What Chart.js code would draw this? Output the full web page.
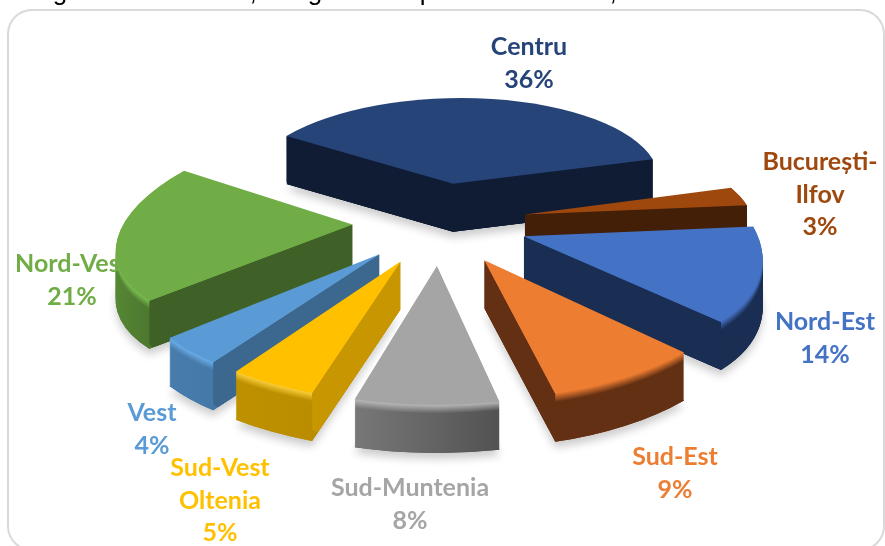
<!DOCTYPE html>
<html>
<head>
<meta charset="utf-8">
<title>Regiuni</title>
<script src="https://cdn.jsdelivr.net/npm/chart.js@4"></script>
<style>
  html, body { margin: 0; background: #fff; overflow: hidden; }
  canvas { display: block; }
</style>
</head>
<body>
<canvas id="canvas" width="885" height="546"></canvas>
<script>
// data, clockwise from the top slice
let categories = ["Centru", "București-Ilfov", "Nord-Est", "Sud-Est", "Sud-Muntenia", "Sud-Vest Oltenia", "Vest", "Nord-Vest"];
let shares = [36, 3, 14, 9, 8, 5, 4, 21];

// styles
let faceColors = ["#264478", "#9e480e", "#4472c4", "#ed7d31", "#a5a5a5", "#ffc000", "#5b9bd5", "#70ad47"];
let wallColors = ["#0f1c33", "#421f06", "#1a2d52", "#633014", "#5c5c5c", "#c79600", "#3c6890", "#3f6027"];
let bevelColors = ["#0f1c33", "#421f06", "#4472c4", "#ed7d31", "#bcbcbc", "#ffd23c", "#6db0ec", "#7dc353"];
let rimLeft = ["#0f1c33", "#421f06", "#1a2d52", "#633014", "#7f7f7f", "#c49500", "#4c85ba", "#619c3b"];
let rimRight = ["#0f1c33", "#421f06", "#1a2d52", "#633014", "#505050", "#b88c00", "#41739f", "#3f6027"];

// label lines and where they sit
let labelLines = [["Centru", "36%"], ["București-", "Ilfov", "3%"], ["Nord-Est", "14%"], ["Sud-Est", "9%"], ["Sud-Muntenia", "8%"], ["Sud-Vest", "Oltenia", "5%"], ["Vest", "4%"], ["Nord-Vest", "21%"]];
let labelSpots = [[529, 47], [820, 162], [825, 322], [675, 457], [410, 488], [220, 468], [152, 413], [72, 264]];

// bottoms of the caption line cut off above the frame
let captionBits = [["g", 60], [",", 253], ["g", 315], ["p", 427], [",", 613]];

// camera for the tilted pie
let view = { cx: 440, cy: 222, tilt: 0.448, dist: 6.5, explodeX: 0.38, explodeY: 0.4, depth: 48, bevel: 9, corner: 4 };

function hex(c) {
  return [1, 3, 5].map((i) => parseInt(c.substr(i, 2), 16));
}

function mix(a, b, t) {
  let pa = hex(a);
  let pb = hex(b);
  let m = pa.map((v, i) => Math.round(v + (pb[i] - v) * t));
  return "#" + m.map((v) => v.toString(16).padStart(2, "0")).join("");
}

function project(X, Y, R) {
  let s = (view.dist * R) / (view.dist * R - Y);
  return [view.cx + X * s, view.cy + Y * view.tilt * s];
}

// three screen points of a slice: tip and both rim corners
function sliceCorners(arc) {
  let R = arc.outerRadius;
  let mid = (arc.startAngle + arc.endAngle) / 2;
  let ex = Math.cos(mid) * view.explodeX * R;
  let ey = Math.sin(mid) * view.explodeY * R;
  return {
    tip: project(ex, ey, R),
    a: project(ex + Math.cos(arc.startAngle) * R, ey + Math.sin(arc.startAngle) * R, R),
    b: project(ex + Math.cos(arc.endAngle) * R, ey + Math.sin(arc.endAngle) * R, R),
    m: project(ex + Math.cos(mid) * R, ey + Math.sin(mid) * R, R),
  };
}

// the affine map that puts the library's flat arc onto those points
function sliceMatrix(arc, c) {
  let R = arc.outerRadius;
  let ax = Math.cos(arc.startAngle) * R, ay = Math.sin(arc.startAngle) * R;
  let bx = Math.cos(arc.endAngle) * R, by = Math.sin(arc.endAngle) * R;
  let det = ax * by - bx * ay;
  let pax = c.a[0] - c.tip[0], pay = c.a[1] - c.tip[1];
  let pbx = c.b[0] - c.tip[0], pby = c.b[1] - c.tip[1];
  let m11 = (pax * by - pbx * ay) / det;
  let m12 = (pbx * ax - pax * bx) / det;
  let m21 = (pay * by - pby * ay) / det;
  let m22 = (pby * ax - pay * bx) / det;
  return [m11, m21, m12, m22, c.tip[0] - m11 * arc.x - m12 * arc.y, c.tip[1] - m21 * arc.x - m22 * arc.y];
}

function drawArcAs(ctx, arc, matrix, color, dy) {
  let base = arc.options;
  arc.options = Object.assign({}, base, { backgroundColor: color, borderWidth: 0 });
  ctx.save();
  ctx.translate(0, dy);
  ctx.transform(matrix[0], matrix[1], matrix[2], matrix[3], matrix[4], matrix[5]);
  arc.draw(ctx);
  ctx.restore();
  arc.options = base;
}

function drawWall(ctx, tip, corner, mid, color) {
  let ex = corner[0] - tip[0], ey = corner[1] - tip[1];
  let inside = ex * (mid[1] - tip[1]) - ey * (mid[0] - tip[0]);
  if (inside * ex > 0) return; // faces away from us
  let r = view.corner;
  ctx.fillStyle = color;
  ctx.beginPath();
  ctx.moveTo(tip[0], tip[1]);
  ctx.lineTo(corner[0], corner[1]);
  ctx.arcTo(corner[0], corner[1] + view.depth, tip[0], tip[1] + view.depth, r);
  ctx.lineTo(tip[0], tip[1] + view.depth);
  ctx.closePath();
  ctx.fill();
}

function rimFill(ctx, c, i, d) {
  let left = Math.min(c.a[0], c.b[0], c.tip[0]);
  let right = Math.max(c.a[0], c.b[0], c.tip[0]);
  let t = d < view.bevel ? d / view.bevel : 1;
  let g = ctx.createLinearGradient(left, 0, right, 0);
  g.addColorStop(0, mix(bevelColors[i], rimLeft[i], t));
  g.addColorStop(1, mix(bevelColors[i], rimRight[i], t));
  return g;
}

let pie3d = {
  id: "pie3d",
  beforeDraw(chart) {
    let ctx = chart.ctx;
    ctx.save();
    ctx.strokeStyle = "#d9d9d9";
    ctx.lineWidth = 2;
    ctx.beginPath();
    ctx.roundRect(8, 10, 876, 540, 24);
    ctx.stroke();
    ctx.fillStyle = "#000";
    ctx.font = "26px 'Liberation Sans'";
    ctx.textAlign = "center";
    ctx.textBaseline = "alphabetic";
    captionBits.forEach((bit) => ctx.fillText(bit[0], bit[1], 0));
    ctx.restore();
  },
  beforeDatasetDraw(chart, args) {
    let ctx = chart.ctx;
    let arcs = args.meta.data.map((arc, i) => ({ arc: arc, i: i, c: sliceCorners(arc) }));
    arcs.sort((p, q) => (p.c.tip[1] + p.c.m[1]) - (q.c.tip[1] + q.c.m[1]));
    arcs.forEach((p) => {
      let matrix = sliceMatrix(p.arc, p.c);
      ctx.save();
      ctx.shadowColor = "rgba(0,0,0,0.2)";
      ctx.shadowBlur = 9;
      ctx.shadowOffsetY = 6;
      drawArcAs(ctx, p.arc, matrix, rimRight[p.i], view.depth);
      ctx.restore();
      for (let d = view.depth; d > 0; d--) {
        drawArcAs(ctx, p.arc, matrix, rimFill(ctx, p.c, p.i, d), d);
      }
      drawWall(ctx, p.c.tip, p.c.a, p.c.m, wallColors[p.i]);
      drawWall(ctx, p.c.tip, p.c.b, p.c.m, wallColors[p.i]);
      drawArcAs(ctx, p.arc, matrix, faceColors[p.i], 0);
    });
    return false;
  },
  afterDraw(chart) {
    let ctx = chart.ctx;
    ctx.save();
    ctx.textAlign = "center";
    ctx.textBaseline = "middle";
    ctx.font = "bold 25px Lato";
    labelLines.forEach((lines, i) => {
      ctx.fillStyle = faceColors[i];
      lines.forEach((line, n) => {
        ctx.fillText(line, labelSpots[i][0], labelSpots[i][1] + n * 32.5);
      });
    });
    ctx.restore();
  },
};

let myChart = new Chart(document.getElementById("canvas").getContext("2d"), {
  type: "pie",
  data: {
    labels: categories,
    datasets: [{ data: shares, backgroundColor: faceColors, borderWidth: 0 }],
  },
  options: {
    responsive: false,
    animation: false,
    rotation: -55.7,
    radius: 230,
    events: [],
    plugins: { legend: { display: false }, tooltip: { enabled: false } },
  },
  plugins: [pie3d],
});
</script>
</body>
</html>
